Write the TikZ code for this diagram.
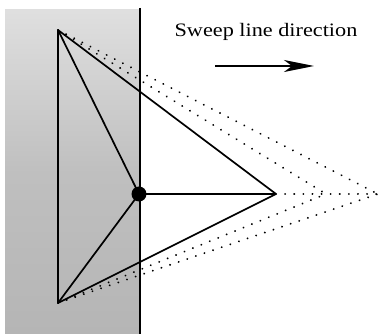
\documentclass[tikz,border=0pt]{standalone}
\usepackage{fontspec}
\setmainfont{Liberation Serif}
\usetikzlibrary{arrows.meta}

\begin{document}
\begin{tikzpicture}[x=1pt,y=1pt,yscale=-1,xscale=1,
  edge/.style={line width=1.7pt},
  dotedge/.style={line width=2pt,dash pattern=on 0.1pt off 9pt,line cap=round}]

\useasboundingbox (0,0) rectangle (381,334);

% swept region
\shade [top color=gray!25, bottom color=gray!58, middle color=gray!50] (5,10) rectangle (140,334);

\coordinate (top) at (58,30);
\coordinate (bot) at (58,303);
\coordinate (apex) at (276,194);
\coordinate (apexb) at (326,194);
\coordinate (apexc) at (378,194);
\coordinate (sweeptop) at (140,8);
\coordinate (sweepbot) at (140,334);

\draw [line width=1.6pt]  (sweeptop) -- (sweepbot) ;

\node (site) [circle,fill=black,inner sep=0pt,minimum size=15pt] at (139,194) {};

\draw [dotedge]  (top) -- (apexb) ;
\draw [dotedge]  (bot) -- (apexb) ;
\draw [dotedge]  (top) -- (apexc) ;
\draw [dotedge]  (bot) -- (apexc) ;
\draw [dotedge]  (apex) -- (apexc) ;

\draw [edge]  (top) -- (bot) ;
\draw [edge]  (top) -- (site.center) ;
\draw [edge]  (bot) -- (site.center) ;
\draw [edge]  (top) -- (apex) ;
\draw [edge]  (bot) -- (apex) ;
\draw [edge]  (site.center) -- (apex) ;

\node (label) [inner sep=0pt,font=\fontsize{19}{22}\selectfont] at (266,32) {\scalebox{1.17}[1]{Sweep line direction}};

\coordinate (arrowtail) at (215,66);
\coordinate (arrowhead) at (314,66);
\draw [line width=1.7pt,-{Stealth[length=30pt,width=12pt,inset=8pt]}]  (arrowtail) -- (arrowhead) ;

\end{tikzpicture}
\end{document}
